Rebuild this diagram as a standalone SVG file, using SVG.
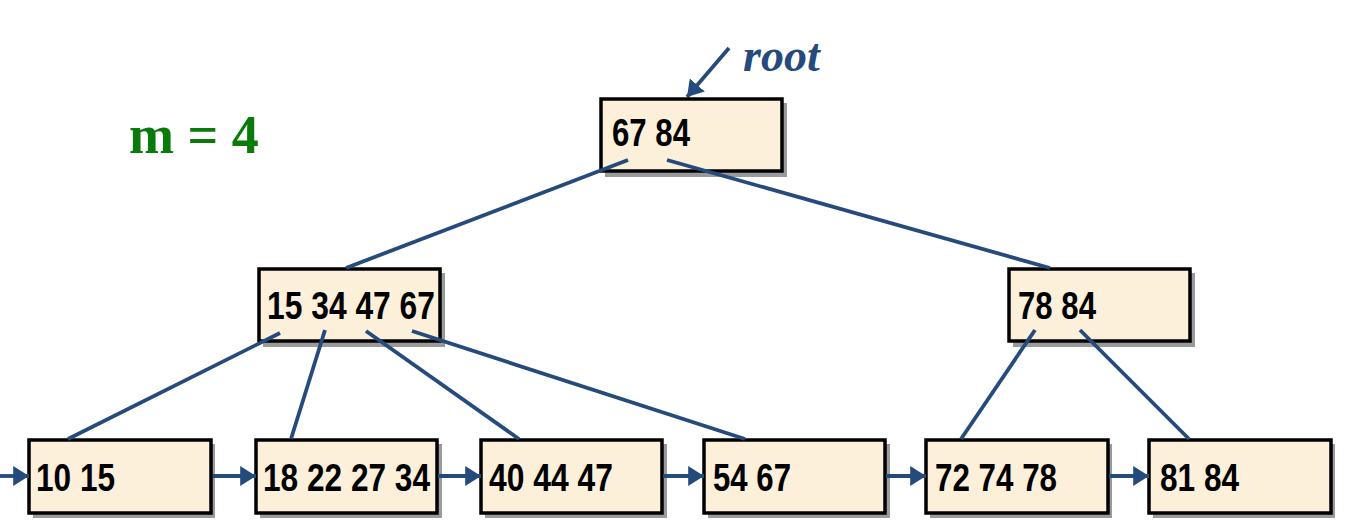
<svg xmlns="http://www.w3.org/2000/svg" width="1353" height="531" viewBox="0 0 1353 531">
<defs>
<marker id="ah2" viewBox="0 0 8 10" refX="8" refY="5" markerWidth="4.2" markerHeight="5.2" orient="auto">
<path d="M0,0 L8,5 L0,10 z" fill="#254a7c"/>
</marker>
</defs>
<style>
.shadow{fill:#9a9a9a}
.box{fill:#fcf0da;stroke:#000;stroke-width:3.5}
.key{font-family:"Liberation Sans",Arial,sans-serif;font-weight:bold;font-size:39px;fill:#000}
.edge{stroke:#254a7c;stroke-width:3.8;fill:none}
.link{stroke:#254a7c;stroke-width:3.8;fill:none;marker-end:url(#ah2)}
</style>
<rect width="1353" height="531" fill="#fff"/>
<text x="129" y="153" font-family="'Liberation Serif','Times New Roman',serif" font-weight="bold" font-size="54" fill="#0a7a0a">m = 4</text>
<g id="root-label">
<text x="743" y="71" font-family="'Liberation Serif','Times New Roman',serif" font-weight="bold" font-style="italic" font-size="46" fill="#254a7c">root</text>
<line class="link" x1="729" y1="48" x2="687" y2="97"/>
</g>
<g id="n-root">
<rect class="shadow" x="605" y="103" width="182" height="74"/>
<rect class="box" x="601" y="99" width="181" height="72"/>
<text class="key" x="612" y="146" textLength="78" lengthAdjust="spacingAndGlyphs">67 84</text>
</g>
<g id="n-mid-left">
<rect class="shadow" x="263" y="273" width="182" height="74"/>
<rect class="box" x="259" y="269" width="181" height="72"/>
<text class="key" x="267" y="319" textLength="168" lengthAdjust="spacingAndGlyphs">15 34 47 67</text>
</g>
<g id="n-mid-right">
<rect class="shadow" x="1013" y="273" width="182" height="74"/>
<rect class="box" x="1009" y="269" width="181" height="72"/>
<text class="key" x="1018" y="319" textLength="78" lengthAdjust="spacingAndGlyphs">78 84</text>
</g>
<g id="n-leaf1">
<rect class="shadow" x="33" y="444" width="182" height="74"/>
<rect class="box" x="29" y="440" width="182" height="73"/>
<text class="key" x="36" y="491" textLength="79" lengthAdjust="spacingAndGlyphs">10 15</text>
</g>
<g id="n-leaf2">
<rect class="shadow" x="260" y="444" width="182" height="74"/>
<rect class="box" x="256" y="440" width="181" height="73"/>
<text class="key" x="263" y="491" textLength="167" lengthAdjust="spacingAndGlyphs">18 22 27 34</text>
</g>
<g id="n-leaf3">
<rect class="shadow" x="485" y="444" width="182" height="74"/>
<rect class="box" x="481" y="440" width="181" height="73"/>
<text class="key" x="489" y="491" textLength="124" lengthAdjust="spacingAndGlyphs">40 44 47</text>
</g>
<g id="n-leaf4">
<rect class="shadow" x="708" y="444" width="182" height="74"/>
<rect class="box" x="704" y="440" width="181" height="73"/>
<text class="key" x="713" y="491" textLength="78" lengthAdjust="spacingAndGlyphs">54 67</text>
</g>
<g id="n-leaf5">
<rect class="shadow" x="930" y="444" width="182" height="74"/>
<rect class="box" x="926" y="440" width="182" height="73"/>
<text class="key" x="935" y="491" textLength="122" lengthAdjust="spacingAndGlyphs">72 74 78</text>
</g>
<g id="n-leaf6">
<rect class="shadow" x="1153" y="444" width="182" height="74"/>
<rect class="box" x="1149" y="440" width="182" height="73"/>
<text class="key" x="1160" y="491" textLength="79" lengthAdjust="spacingAndGlyphs">81 84</text>
</g>
<g id="connectors">
<line class="edge" x1="628" y1="160" x2="346" y2="268"/>
<line class="edge" x1="667" y1="160" x2="1050" y2="268"/>
<line class="edge" x1="280" y1="333" x2="68" y2="439"/>
<line class="edge" x1="325" y1="330" x2="291" y2="439"/>
<line class="edge" x1="366" y1="331" x2="519" y2="439"/>
<line class="edge" x1="412" y1="331" x2="745" y2="439"/>
<line class="edge" x1="1035" y1="330" x2="961" y2="439"/>
<line class="edge" x1="1080" y1="330" x2="1189" y2="439"/>
<line class="link" x1="0" y1="476" x2="29" y2="476"/>
<line class="link" x1="213" y1="476" x2="256" y2="476"/>
<line class="link" x1="438" y1="476" x2="481" y2="476"/>
<line class="link" x1="663" y1="476" x2="704" y2="476"/>
<line class="link" x1="886" y1="476" x2="926" y2="476"/>
<line class="link" x1="1109" y1="476" x2="1149" y2="476"/>
</g>
</svg>
